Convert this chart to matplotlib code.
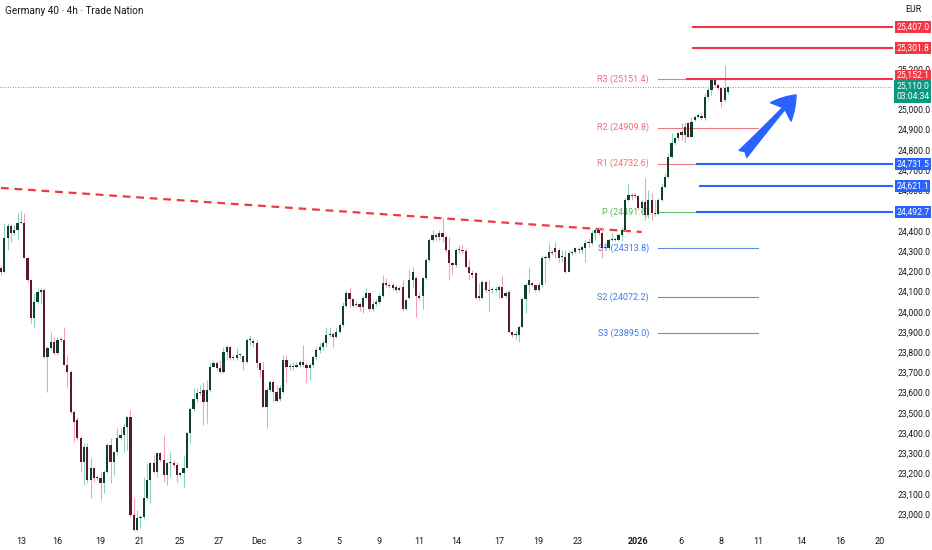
import matplotlib.pyplot as plt
import numpy as np

plt.rcParams['font.family'] = ['Roboto', 'DejaVu Sans']

# 4h candles, Germany 40
opens = [24215, 24195, 24365, 24425, 24390, 24405, 24440, 24440, 24265, 24155,
         23971, 24046, 24095, 24105, 23776, 23821, 23851, 23796, 23861, 23861,
         23736, 23701, 23502, 23467, 23377, 23257, 23332, 23167, 23227, 23177,
         23177, 23152, 23207, 23342, 23257, 23307, 23377, 23392, 23432, 23477,
         22996, 22921, 22981, 22986, 23077, 23167, 23252, 23207, 23302, 23267,
         23192, 23252, 23252, 23242, 23192, 23202, 23227, 23402, 23517, 23567,
         23596, 23611, 23552, 23611, 23726, 23746, 23721, 23701, 23801, 23826,
         23771, 23771, 23786, 23781, 23751, 23861, 23856, 23846, 23746, 23711,
         23527, 23611, 23651, 23601, 23567, 23601, 23761, 23726, 23731, 23726,
         23736, 23751, 23736, 23721, 23736, 23776, 23811, 23826, 23846, 23886,
         23891, 23876, 23901, 23936, 24026, 24090, 24061, 24031, 24036, 24021,
         24070, 24090, 24011, 24036, 24046, 24080, 24140, 24130, 24130, 24120,
         24105, 24120, 24011, 24070, 24155, 24165, 24080, 24080, 24165, 24255,
         24355, 24380, 24370, 24390, 24370, 24305, 24240, 24230, 24305, 24305,
         24300, 24220, 24190, 24190, 24070, 24070, 24145, 24105, 24105, 24105,
         24105, 24120, 24080, 24095, 23901, 23886, 23886, 23926, 24065, 24130,
         24140, 24130, 24105, 24130, 24265, 24265, 24295, 24295, 24305, 24270,
         24270, 24195, 24290, 24295, 24310, 24305, 24315, 24340, 24340, 24390,
         24405, 24390, 24315, 24315, 24355, 24355, 24355, 24380, 24405, 24552,
         24577, 24572, 24572, 24513, 24542, 24478, 24552, 24488, 24483, 24552,
         24617, 24666, 24765, 24834, 24859, 24889, 24874, 24933, 24864, 24948,
         24963, 24968, 24958, 25062, 25096, 25146, 25121, 25106, 25047, 25086]
highs = [24230, 24440, 24440, 24435, 24430, 24490, 24500, 24490, 24270, 24160,
         24090, 24115, 24115, 24115, 23831, 23901, 23876, 23876, 23876, 23926,
         23786, 23711, 23512, 23477, 23387, 23352, 23352, 23277, 23232, 23192,
         23207, 23217, 23352, 23377, 23307, 23427, 23427, 23452, 23482, 23512,
         23077, 23021, 22996, 23182, 23252, 23257, 23292, 23307, 23307, 23392,
         23257, 23307, 23267, 23257, 23207, 23292, 23407, 23527, 23621, 23621,
         23636, 23651, 23661, 23751, 23761, 23756, 23761, 23826, 23836, 23831,
         23786, 23821, 23796, 23786, 23871, 23886, 23871, 23861, 23751, 23751,
         23621, 23661, 23661, 23636, 23636, 23786, 23786, 23746, 23751, 23751,
         23761, 23836, 23751, 23746, 23786, 23826, 23846, 23861, 23926, 23926,
         23901, 23926, 23946, 24046, 24105, 24120, 24065, 24051, 24046, 24080,
         24115, 24095, 24051, 24061, 24090, 24180, 24165, 24140, 24140, 24130,
         24125, 24155, 24063, 24205, 24220, 24175, 24095, 24170, 24265, 24365,
         24405, 24390, 24405, 24465, 24380, 24370, 24245, 24315, 24330, 24330,
         24315, 24255, 24205, 24195, 24140, 24155, 24155, 24155, 24120, 24125,
         24130, 24180, 24100, 24105, 23906, 23911, 23936, 24070, 24140, 24220,
         24145, 24135, 24145, 24280, 24280, 24340, 24305, 24345, 24315, 24305,
         24305, 24305, 24305, 24320, 24320, 24330, 24355, 24365, 24405, 24415,
         24420, 24420, 24345, 24365, 24390, 24370, 24390, 24420, 24562, 24636,
         24587, 24587, 24577, 24552, 24661, 24602, 24587, 24552, 24562, 24636,
         24686, 24785, 24884, 24869, 24889, 24933, 24938, 24938, 24963, 24973,
         24982, 24987, 25081, 25111, 25151, 25151, 25126, 25111, 25220, 25116]
lows = [24180, 24195, 24305, 24345, 24380, 24355, 24435, 24265, 24145, 23946,
        23926, 24036, 24036, 23771, 23601, 23811, 23786, 23786, 23851, 23736,
        23626, 23492, 23357, 23367, 23207, 23142, 23152, 23077, 23157, 23167,
        23071, 23102, 23202, 23152, 23192, 23292, 23367, 23307, 23317, 22986,
        22916, 22916, 22931, 22976, 23071, 23056, 23202, 23182, 23257, 23157,
        23142, 23182, 23232, 23157, 23182, 23132, 23227, 23352, 23507, 23552,
        23586, 23442, 23452, 23601, 23726, 23711, 23696, 23696, 23761, 23761,
        23761, 23761, 23771, 23711, 23746, 23836, 23826, 23721, 23676, 23527,
        23427, 23601, 23557, 23552, 23557, 23596, 23651, 23711, 23711, 23721,
        23726, 23726, 23646, 23661, 23726, 23761, 23796, 23811, 23826, 23876,
        23826, 23871, 23896, 23926, 24021, 24021, 24021, 24021, 24001, 23996,
        24065, 24001, 24001, 24026, 24036, 24075, 24120, 24115, 24105, 24095,
        24100, 24001, 24006, 24065, 24115, 23976, 24058, 24011, 24155, 24245,
        24345, 24355, 24355, 24345, 24295, 24155, 24180, 24220, 24290, 24290,
        24215, 24155, 24165, 24065, 24058, 24065, 24095, 24001, 24090, 24095,
        24070, 24070, 24070, 23896, 23876, 23861, 23851, 23921, 23996, 24090,
        24120, 24095, 24095, 24120, 24140, 24255, 24280, 24265, 24245, 24245,
        24190, 24195, 24280, 24290, 24290, 24290, 24245, 24320, 24330, 24355,
        24380, 24265, 24310, 24305, 24350, 24350, 24350, 24350, 24400, 24547,
        24552, 24562, 24503, 24488, 24454, 24463, 24454, 24473, 24478, 24547,
        24612, 24661, 24760, 24824, 24849, 24849, 24839, 24864, 24864, 24943,
        24958, 24948, 24948, 25047, 25071, 25111, 25096, 25012, 25037, 25076]
closes = [24195, 24365, 24425, 24390, 24405, 24440, 24445, 24265, 24155, 23971,
          24046, 24095, 24105, 23776, 23821, 23851, 23796, 23861, 23866, 23736,
          23701, 23502, 23457, 23377, 23257, 23332, 23167, 23227, 23177, 23182,
          23152, 23207, 23342, 23257, 23307, 23377, 23392, 23432, 23477, 22996,
          22921, 22981, 22986, 23077, 23167, 23252, 23207, 23302, 23267, 23192,
          23252, 23252, 23242, 23192, 23202, 23227, 23402, 23517, 23567, 23596,
          23601, 23552, 23611, 23726, 23746, 23721, 23701, 23801, 23826, 23771,
          23776, 23786, 23786, 23751, 23861, 23861, 23846, 23746, 23711, 23527,
          23611, 23651, 23601, 23557, 23621, 23761, 23726, 23731, 23726, 23736,
          23751, 23736, 23721, 23736, 23776, 23811, 23826, 23846, 23886, 23886,
          23876, 23901, 23936, 24026, 24090, 24061, 24026, 24036, 24021, 24070,
          24090, 24011, 24036, 24046, 24080, 24140, 24130, 24125, 24115, 24105,
          24115, 24011, 24058, 24155, 24195, 24080, 24070, 24165, 24255, 24355,
          24380, 24370, 24390, 24370, 24305, 24240, 24230, 24305, 24305, 24300,
          24220, 24190, 24180, 24070, 24080, 24145, 24105, 24100, 24110, 24110,
          24120, 24070, 24090, 23901, 23886, 23891, 23926, 24065, 24130, 24155,
          24130, 24105, 24130, 24265, 24270, 24295, 24290, 24315, 24265, 24275,
          24195, 24290, 24295, 24315, 24305, 24320, 24340, 24345, 24390, 24405,
          24390, 24315, 24320, 24355, 24360, 24360, 24380, 24405, 24552, 24577,
          24572, 24577, 24513, 24542, 24478, 24552, 24488, 24483, 24552, 24617,
          24666, 24765, 24834, 24859, 24884, 24874, 24913, 24864, 24938, 24963,
          24973, 24958, 25062, 25096, 25146, 25121, 25106, 25037, 25106, 25110]

date_labels = ["13", "16", "19", "21", "25", "27", "Dec", "3", "5", "9", "11", "14",
               "17", "19", "23", "2026", "6", "8", "11", "14", "16", "20"]
date_pos = [6.0, 16.9, 29.8, 41.9, 53.9, 65.7, 77.7, 89.8, 101.8, 113.9, 125.9, 137.0,
            150.0, 162.0, 173.8, 191.9, 204.8, 216.9, 228.0, 241.0, 252.7, 264.8]

# pivot points (daily)
pivot_names = ["R3", "R2", "R1", "P", "S1", "S2", "S3"]
pivot_vals = [25151.4, 24909.8, 24732.6, 24491.6, 24313.8, 24072.2, 23895.0]

# horizontal key levels
res_levels = [25407.0, 25301.8, 25152.1]
sup_levels = [24731.5, 24621.1, 24492.7]
last_price = 25110.0
countdown = "03:04:34"

# trendline (candle index, price)
trend_x = [0, 193]
trend_y = [24612, 24394]

UP_BODY, UP_WICK = '#103f2f', '#8dd2bf'
DN_BODY, DN_WICK = '#5a1a26', '#f3a3b3'
RED, BLUE, GREEN = '#f23645', '#2962ff', '#089981'
TXT = '#131722'
AX_FS = 6.2

o = np.array(opens)
h = np.array(highs)
l = np.array(lows)
c = np.array(closes)
x = np.arange(len(c))
up = c >= o

fig = plt.figure(figsize=(9.32, 5.5), dpi=100)
ax = fig.add_axes([0, 16 / 550, 893 / 932, 534 / 550])
ax.set_xlim(-0.3, 268.7)
ax.set_ylim(22901, 25541)

ax.vlines(x, l, h, colors=np.where(up, UP_WICK, DN_WICK), linewidth=0.8, zorder=3)
body_h = np.maximum(np.abs(c - o), 3)
ax.bar(x, body_h, bottom=np.minimum(o, c), width=0.66,
       color=np.where(up, UP_BODY, DN_BODY), linewidth=0, zorder=4)

# trendline
ax.plot(trend_x, trend_y, color=RED, lw=1.6, ls=(0, (3.5, 2.6)), zorder=2)

# pivots
piv_cols = ['#f07783', '#f07783', '#f07783', '#6dbf6f', '#5d8ff0', '#5d8ff0', '#5d8ff0']
lab_cols = ['#ee6d7a', '#ee6d7a', '#ee6d7a', '#5bb45e', '#3f7be8', '#3f7be8', '#3f7be8']
for name, v, lc, tc in zip(pivot_names, pivot_vals, piv_cols, lab_cols):
    ax.plot([198, 228], [v, v], color=lc, lw=0.8, zorder=2)
    ax.text(195.2, v, f"{name} ({v:.1f})", color=tc, fontsize=6.5,
            ha='right', va='center', zorder=1)

# key levels
res_start = [208.4, 208.4, 206.6]
sup_start = [209.6, 210.5, 209.6]
for v, xs in zip(res_levels, res_start):
    ax.plot([xs, 268.7], [v, v], color=RED, lw=1.5, zorder=5)
for v, xs in zip(sup_levels, sup_start):
    ax.plot([xs, 268.7], [v, v], color=BLUE, lw=1.5, zorder=5)

ax.axhline(last_price, color=GREEN, lw=0.6, ls=(0, (1, 2)), zorder=1)

# arrow
ax.annotate("", xy=(239.5, 25072), xytext=(223.5, 24780),
            arrowprops=dict(arrowstyle="fancy,head_length=0.75,head_width=0.9,tail_width=0.34",
                            color=BLUE, mutation_scale=22, shrinkA=0, shrinkB=0), zorder=6)

# axes styling
for s in ax.spines.values():
    s.set_visible(False)
ax.yaxis.tick_right()
yt = np.arange(23000, 25201, 100)
ax.set_yticks(yt)
ax.set_yticklabels([f"{v:,.1f}" for v in yt])
ax.tick_params(axis='y', length=0, pad=3, labelsize=AX_FS, labelcolor=TXT)
ax.set_xticks(date_pos)
ax.set_xticklabels(date_labels)
ax.tick_params(axis='x', length=0, pad=2.5, labelsize=6.5, labelcolor=TXT)
for lbl in ax.get_xticklabels():
    if lbl.get_text() == "2026":
        lbl.set_fontweight('bold')

# price-scale boxes; the one touching the last-price box is nudged up, as TradingView does
trans = ax.get_yaxis_transform()
box_levels = res_levels + sup_levels
box_cols = [RED] * len(res_levels) + [BLUE] * len(sup_levels)
box_shift = [0, 0, 3, 0, 0, 0]
for v, col, dy in zip(box_levels, box_cols, box_shift):
    ax.annotate(f"{v:,.1f}", xy=(1.0035, v), xycoords=trans, xytext=(0, dy),
                textcoords='offset pixels', color='white', fontsize=AX_FS,
                ha='left', va='center', annotation_clip=False, zorder=10,
                bbox=dict(boxstyle='square,pad=0.18', fc=col, ec='none'))
ax.annotate(f"{last_price:,.1f}\n{countdown}", xy=(1.0035, last_price), xycoords=trans,
            xytext=(0, 5), textcoords='offset pixels', color='white', fontsize=AX_FS,
            ha='left', va='top', linespacing=1.1, annotation_clip=False, zorder=11,
            bbox=dict(boxstyle='square,pad=0.2', fc=GREEN, ec='none'))

fig.text(5 / 932, 1 - 11 / 550, "Germany 40 · 4h · Trade Nation", fontsize=7.2,
         color=TXT, va='center', ha='left')
fig.text(905 / 932, 1 - 10 / 550, "EUR", fontsize=6.3, color=TXT, va='center', ha='left')

fig.savefig("out.png", dpi=100, facecolor='white')
